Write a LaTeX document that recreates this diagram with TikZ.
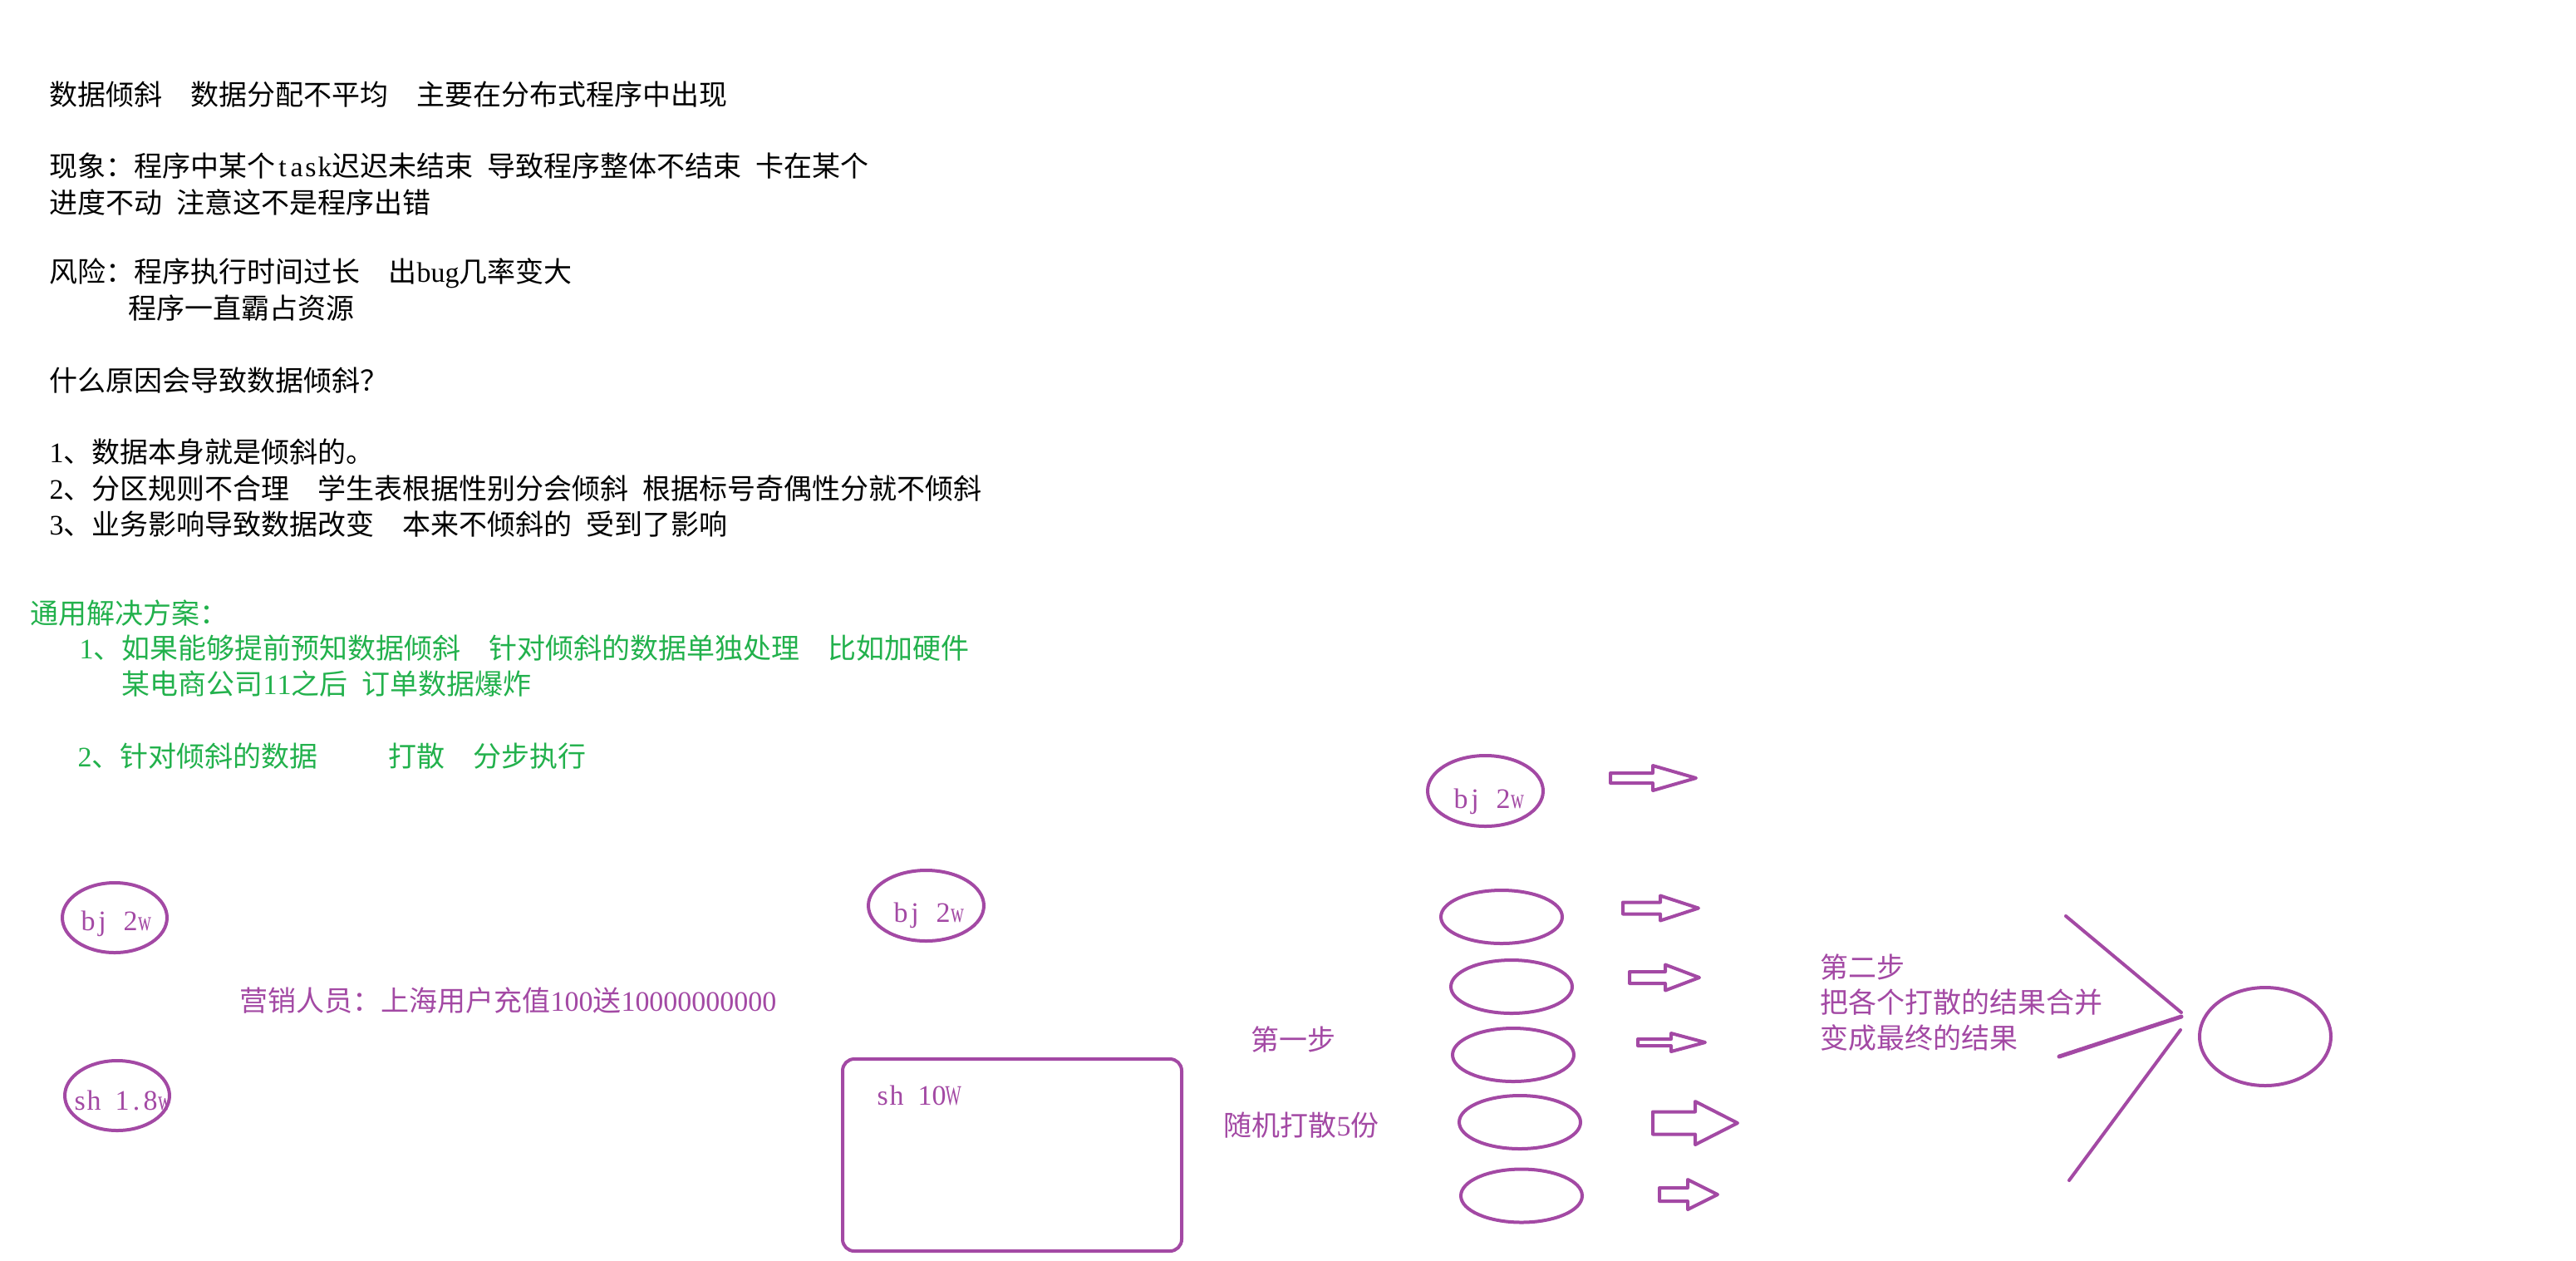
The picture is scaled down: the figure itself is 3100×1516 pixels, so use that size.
\documentclass[tikz,border=0pt]{standalone}
\usepackage{fontspec}
\usepackage{graphicx}
\setmainfont{Noto Sans CJK SC}
\newfontfamily\latfont{Liberation Serif}
\usetikzlibrary{shapes.geometric}
\definecolor{pur}{RGB}{163,73,164}
\definecolor{grn}{RGB}{34,177,76}
\newcommand\fs{\fontsize{9.67pt}{12pt}\selectfont}
\newcommand\hsp[1]{\hspace*{#1em}}
\newcommand\hw[1]{\makebox[0.5em][c]{\latfont #1}}
\newcommand\hww[2]{\makebox[0.5em][c]{\scalebox{#1}[1]{\latfont #2}}}
\begin{document}
\begin{tikzpicture}[x=0.1mm,y=-0.1mm,
  txt/.style={anchor=west,inner sep=0pt,font=\fs},
  lbl/.style={anchor=base west,inner sep=0pt,font=\fs,text=pur},
  ell/.style={ellipse,draw=pur,line width=0.4mm,inner sep=0pt},
  arr/.style={draw=pur,line width=0.4mm,line join=round},
  seg/.style={draw=pur,line width=0.4mm,line cap=round}]
\fill[white] (0,0) rectangle (3100,1516);
\useasboundingbox (0,0) rectangle (3100,1516);

% black text
\node[txt] (t1) at (59,114) {数据倾斜\hsp{1}数据分配不平均\hsp{1}主要在分布式程序中出现};
\node[txt] (t2) at (59,200) {现象：程序中某个\hw{t}\hw{a}\hw{s}\hw{k}迟迟未结束\hsp{.5}导致程序整体不结束\hsp{.5}卡在某个};
\node[txt] (t3) at (59,243) {进度不动\hsp{.5}注意这不是程序出错};
\node[txt] (t4) at (59,329) {风险：程序执行时间过长\hsp{1}出\hw{b}\hw{u}\hw{g}几率变大};
\node[txt] (t5) at (154,371) {程序一直霸占资源};
\node[txt] (t6) at (59,458) {什么原因会导致数据倾斜？};
\node[txt] (t7) at (59,544) {\hw{1}、数据本身就是倾斜的。};
\node[txt] (t8) at (59,587) {\hw{2}、分区规则不合理\hsp{1}学生表根据性别分会倾斜\hsp{.5}根据标号奇偶性分就不倾斜};
\node[txt] (t9) at (59,630) {\hw{3}、业务影响导致数据改变\hsp{1}本来不倾斜的\hsp{.5}受到了影响};

% green text
\node[txt,text=grn] (g0) at (36,738) {通用解决方案：};
\node[txt,text=grn] (g1) at (95,780) {\hw{1}、如果能够提前预知数据倾斜\hsp{1}针对倾斜的数据单独处理\hsp{1}比如加硬件};
\node[txt,text=grn] (g2) at (146,823) {某电商公司\hw{1}\hw{1}之后\hsp{.5}订单数据爆炸};
\node[txt,text=grn] (g3) at (93,910) {\hw{2}、针对倾斜的数据\hsp{2.5}打散\hsp{1}分步执行};

% left ellipses
\node[ell,minimum width=12.6mm,minimum height=8.4mm] (bjL) at (138,1104) {};
\node[lbl] (bjLt) at (97,1119) {\hw{b}\hw{j}\hsp{.5}\hw{2}\hww{0.65}{w}};
\node[ell,minimum width=12.6mm,minimum height=8.4mm] (shL) at (141,1318) {};
\node[lbl] (shLt) at (87,1335) {\hw{s}\hw{h}\hsp{.5}\hw{1}\hw{.}\hw{8}\hww{0.65}{w}};

\node[txt,text=pur] (mk) at (288,1204) {营销人员：上海用户充值{\latfont 100}送{\latfont 10000000000}};

% middle
\node[ell,minimum width=13.9mm,minimum height=8.5mm] (bjM) at (1114.5,1089.5) {};
\node[lbl] (bjMt) at (1075,1109) {\hw{b}\hw{j}\hsp{.5}\hw{2}\hww{0.65}{w}};
\node[draw=pur,line width=0.4mm,rounded corners=1.4mm,minimum width=40.8mm,minimum height=23.1mm,inner sep=0pt] (shM) at (1218,1389.5) {};
\node[lbl] (shMt) at (1053,1329) {\hw{s}\hw{h}\hsp{.5}\hw{1}\hw{0}\hww{0.6}{W}};

\node[txt,text=pur] (s1) at (1505,1250) {第一步};
\node[txt,text=pur] (s1b) at (1472,1354) {随机打散{\latfont 5}份};

% right column
\node[ell,minimum width=13.9mm,minimum height=8.5mm] (bjR) at (1787.5,951.5) {};
\node[lbl] (bjRt) at (1749,972) {\hw{b}\hw{j}\hsp{.5}\hw{2}\hww{0.65}{w}};
\node[ell,minimum width=14.6mm,minimum height=6.4mm] (e1) at (1807,1103) {};
\node[ell,minimum width=14.6mm,minimum height=6.4mm] (e2) at (1819,1187) {};
\node[ell,minimum width=14.6mm,minimum height=6.4mm] (e3) at (1821,1269) {};
\node[ell,minimum width=14.6mm,minimum height=6.4mm] (e4) at (1829,1350) {};
\node[ell,minimum width=14.6mm,minimum height=6.4mm] (e5) at (1831,1438.5) {};

% block arrows
\draw[arr] (1938,930) -- (1989,930) -- (1989,921) -- (2041,936) -- (1989,951) -- (1989,942) -- (1938,942) -- cycle;
\draw[arr] (1953,1085.5) -- (1998,1085.5) -- (1998,1077.5) -- (2044,1092.5) -- (1998,1107.5) -- (1998,1099.5) -- (1953,1099.5) -- cycle;
\draw[arr] (1961,1169) -- (2004,1169) -- (2004,1160.5) -- (2045,1176) -- (2004,1191.5) -- (2004,1183) -- (1961,1183) -- cycle;
\draw[arr] (1971,1250) -- (2011,1250) -- (2011,1243) -- (2052,1254) -- (2011,1265) -- (2011,1258) -- (1971,1258) -- cycle;
\draw[arr] (1989,1337.5) -- (2040,1337.5) -- (2040,1325) -- (2091,1351) -- (2040,1377) -- (2040,1364.5) -- (1989,1364.5) -- cycle;
\draw[arr] (1997,1429) -- (2031,1429) -- (2031,1419) -- (2067,1437) -- (2031,1455) -- (2031,1445) -- (1997,1445) -- cycle;

% step 2
\node[txt,text=pur] (s2a) at (2190,1163) {第二步};
\node[txt,text=pur] (s2b) at (2190,1206) {把各个打散的结果合并};
\node[txt,text=pur] (s2c) at (2190,1249) {变成最终的结果};

\coordinate (l1a) at (2486,1102);
\coordinate (l1b) at (2625,1218);
\coordinate (l2a) at (2478,1271);
\coordinate (l2b) at (2625,1223);
\coordinate (l3a) at (2490,1420);
\coordinate (l3b) at (2624,1239);
\draw[seg] (l1a) -- (l1b);
\draw[seg,line width=0.5mm] (l2a) -- (l2b);
\draw[seg] (l3a) -- (l3b);

\node[ell,minimum width=15.8mm,minimum height=11.8mm] (res) at (2726,1247) {};
\end{tikzpicture}
\end{document}
